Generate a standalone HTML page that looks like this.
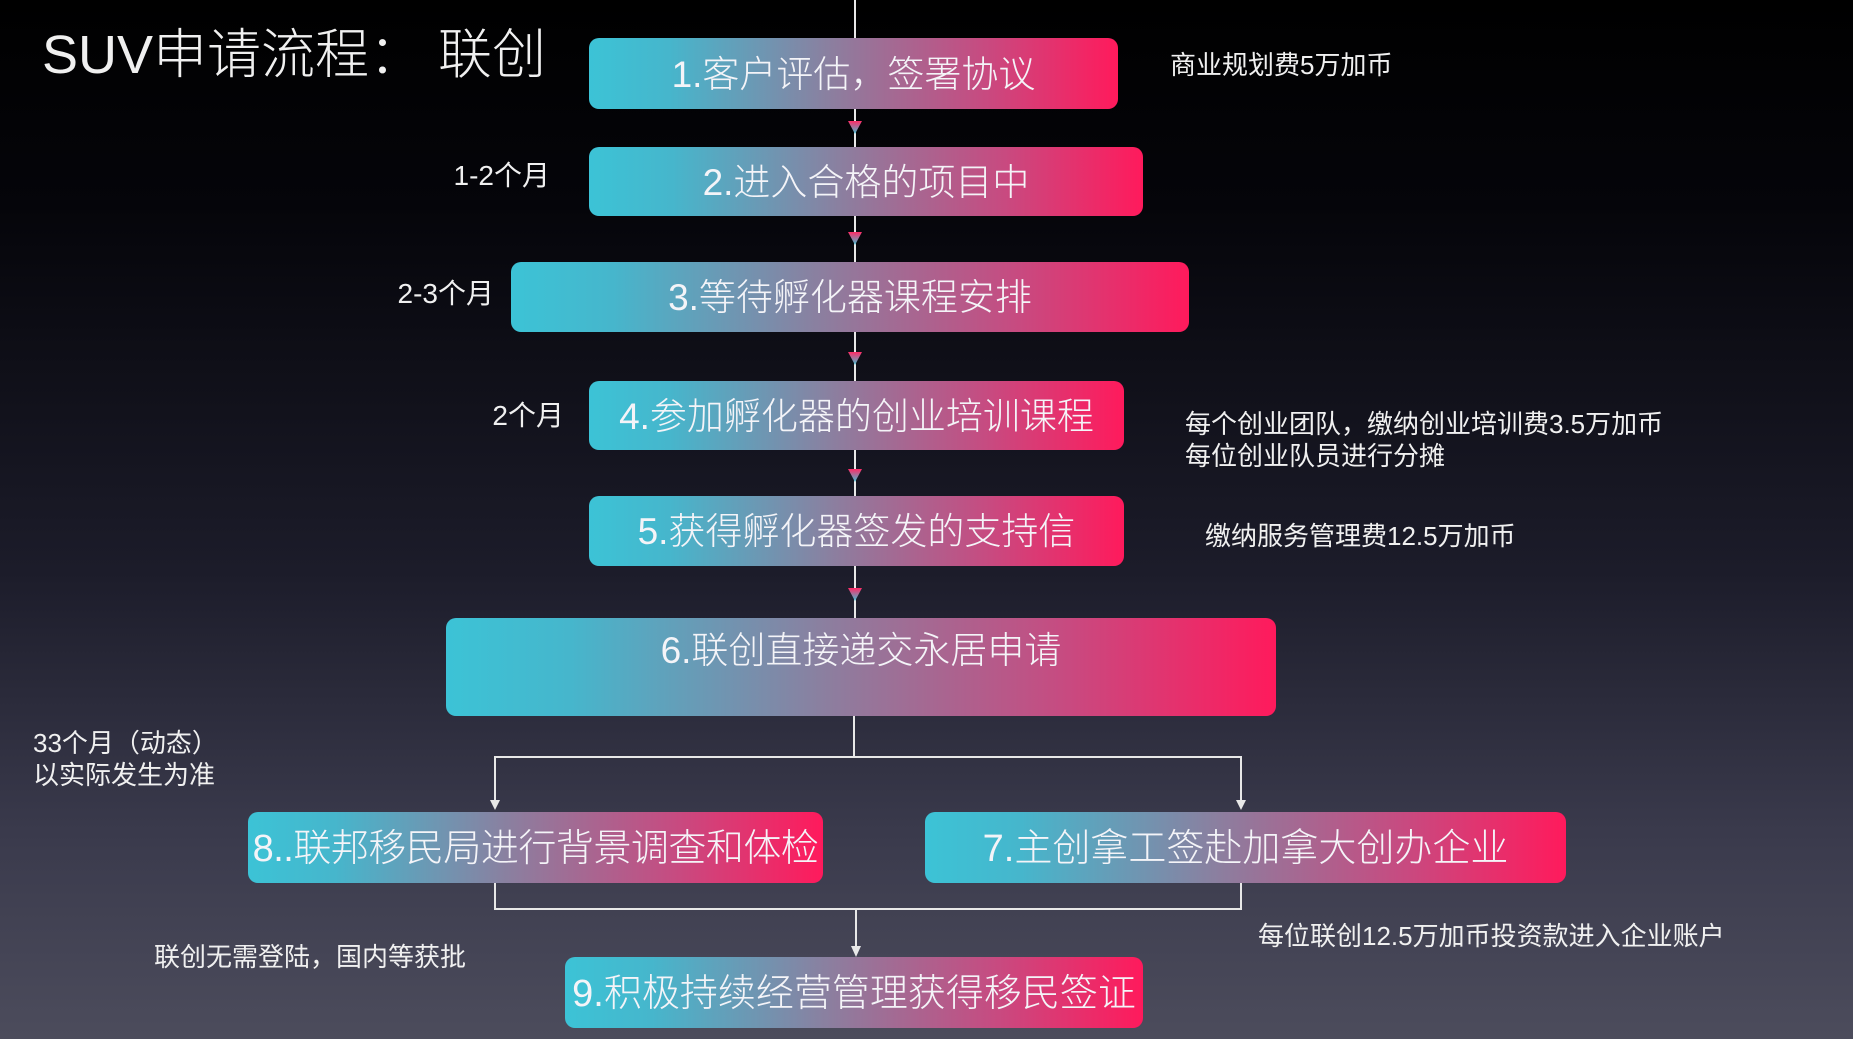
<!DOCTYPE html>
<html><head><meta charset="utf-8"><style>
html,body{margin:0;padding:0}
body{width:1853px;height:1039px;position:relative;overflow:hidden;
background:linear-gradient(180deg,#000 0%,#05050a 20%,#1c1c2a 55%,#3a3a4c 80%,#4c4c5c 100%);
font-family:"Liberation Sans","Noto Sans CJK SC",sans-serif;color:#fff}
.b{position:absolute;border-radius:10px;background:linear-gradient(90deg,#3cc3d6 0%,#46b6cc 15%,#8a80a0 45%,#c84a80 75%,#ff1a5c 100%);
display:flex;align-items:center;justify-content:center;font-size:37px;font-weight:300;color:#f4f4f8;white-space:nowrap;padding-bottom:6px;box-sizing:border-box}
.t{position:absolute;white-space:nowrap;font-size:26px;line-height:32px;color:#f0f0f0}
.r{text-align:right}
svg{position:absolute;left:0;top:0}
</style></head><body>
<svg width="1853" height="1039">
<defs><linearGradient id="g" x1="0" y1="0" x2="0" y2="1"><stop offset="0" stop-color="#ff2a66"/><stop offset="1" stop-color="#3cc3d6"/></linearGradient></defs>
<g stroke="#e8e8e8" stroke-width="2" fill="none">
<line x1="855" y1="0" x2="855" y2="38"/>
<line x1="855" y1="109" x2="855" y2="147"/>
<line x1="855" y1="216" x2="855" y2="262"/>
<line x1="855" y1="332" x2="855" y2="381"/>
<line x1="855" y1="450" x2="855" y2="496"/>
<line x1="855" y1="566" x2="855" y2="618"/>
<line x1="854" y1="716" x2="854" y2="757"/>
<polyline points="495,805 495,757 1241,757 1241,805"/>
<polyline points="495,883 495,909 1241,909 1241,883"/>
<line x1="856" y1="909" x2="856" y2="952"/>
</g>
<g fill="#e8e8e8">
<polygon points="490,800 500,800 495,810"/>
<polygon points="1236,800 1246,800 1241,810"/>
<polygon points="851,946 861,946 856,957"/>
</g>
<g fill="url(#g)">
<polygon points="848,121 862,121 855,134"/>
<polygon points="848,232 862,232 855,245"/>
<polygon points="848,352 862,352 855,365"/>
<polygon points="848,469 862,469 855,482"/>
<polygon points="848,588 862,588 855,601"/>
</g>
</svg>
<div class="t" style="left:42px;top:20px;font-size:54px;line-height:70px;font-weight:300">SUV申请流程：&nbsp;联创</div>
<div class="b" style="left:589px;top:38px;width:529px;height:71px">1.客户评估，签署协议</div>
<div class="b" style="left:589px;top:147px;width:554px;height:69px">2.进入合格的项目中</div>
<div class="b" style="left:511px;top:262px;width:678px;height:70px">3.等待孵化器课程安排</div>
<div class="b" style="left:589px;top:381px;width:535px;height:69px">4.参加孵化器的创业培训课程</div>
<div class="b" style="left:589px;top:496px;width:535px;height:70px">5.获得孵化器签发的支持信</div>
<div class="b" style="left:446px;top:618px;width:830px;height:98px;align-items:flex-start;padding-top:2px">6.联创直接递交永居申请</div>
<div class="b" style="left:248px;top:812px;width:575px;height:71px;font-size:38px;letter-spacing:-0.5px">8..联邦移民局进行背景调查和体检</div>
<div class="b" style="left:925px;top:812px;width:641px;height:71px;font-size:38px">7.主创拿工签赴加拿大创办企业</div>
<div class="b" style="left:565px;top:957px;width:578px;height:71px;font-size:38px">9.积极持续经营管理获得移民签证</div>
<div class="t" style="left:1170px;top:49px">商业规划费5万加币</div>
<div class="t r" style="right:1303px;top:160px;font-size:28px">1-2个月</div>
<div class="t r" style="right:1359px;top:278px;font-size:28px">2-3个月</div>
<div class="t r" style="right:1289px;top:400px;font-size:28px">2个月</div>
<div class="t" style="left:1185px;top:408px">每个创业团队，缴纳创业培训费3.5万加币<br>每位创业队员进行分摊</div>
<div class="t" style="left:1205px;top:520px">缴纳服务管理费12.5万加币</div>
<div class="t" style="left:33px;top:727px">33个月（动态）<br>以实际发生为准</div>
<div class="t" style="left:154px;top:941px">联创无需登陆，国内等获批</div>
<div class="t" style="left:1258px;top:920px">每位联创12.5万加币投资款进入企业账户</div>
</body></html>
